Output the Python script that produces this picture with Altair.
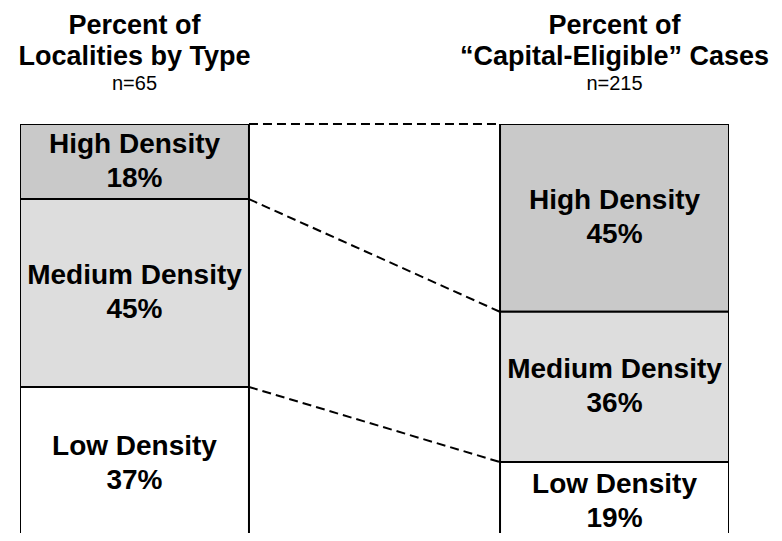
import altair as alt
import pandas as pd

groups = ["Localities", "Cases"]
title_lines = [["Percent of", "Localities by Type"], ["Percent of", "\u201cCapital-Eligible\u201d Cases"]]
n_labels = ["n=65", "n=215"]
densities = ["High Density", "Medium Density", "Low Density"]
pct_localities = [18, 45, 37]
pct_cases = [45, 36, 19]
fills = ["#c9c9c9", "#dddddd", "#ffffff"]

rows = []
for g, vals in zip(groups, [pct_localities, pct_cases]):
    start = 0
    for d, v in zip(densities, vals):
        rows.append({"group": g, "density": d, "start": start, "end": start + v,
                     "mid": start + v / 2, "label": [d, f"{v}%"]})
        start += v
bars_df = pd.DataFrame(rows)

conn = []
cl, cr = 0, 0
for vl, vr in zip([0] + pct_localities[:-1], [0] + pct_cases[:-1]):
    cl += vl
    cr += vr
    conn.append({"src": groups[0], "dst": groups[1], "yl": cl, "yr": cr})
conn_df = pd.DataFrame(conn)

titles_df = pd.DataFrame({"group": groups, "title": title_lines, "n": n_labels})

xscale = alt.Scale(domain=groups, paddingInner=0.523, paddingOuter=0)
yscale = alt.Scale(domain=[0, 98], reverse=True)

base_x = alt.X("group:N", scale=xscale, axis=None, sort=groups)

bars = alt.Chart(bars_df).mark_bar(stroke="black", strokeWidth=2, clip=True).encode(
    x=base_x,
    y=alt.Y("start:Q", scale=yscale, axis=None),
    y2="end:Q",
    fill=alt.Fill("density:N", scale=alt.Scale(domain=densities, range=fills), legend=None),
)

labels = alt.Chart(bars_df).mark_text(
    font="Liberation Sans", fontWeight="bold", fontSize=28, lineHeight=34,
    baseline="middle", color="black", dy=-17
).encode(
    x=base_x,
    y=alt.Y("mid:Q", scale=yscale, axis=None),
    text="label",
)

connectors = alt.Chart(conn_df).mark_rule(
    color="black", strokeWidth=2, strokeDash=[9, 5]
).encode(
    x=alt.X("src:N", scale=xscale, axis=None, bandPosition=1),
    x2=alt.X2("dst:N", bandPosition=0),
    y=alt.Y("yl:Q", scale=yscale, axis=None),
    y2="yr:Q",
)

title_text = alt.Chart(titles_df).mark_text(
    font="Liberation Sans", fontWeight="bold", fontSize=27, lineHeight=31,
    baseline="alphabetic", color="black"
).encode(
    x=base_x,
    y=alt.value(-90),
    text="title",
)

n_text = alt.Chart(titles_df).mark_text(
    font="Liberation Sans", fontSize=20, baseline="alphabetic", color="black"
).encode(
    x=base_x,
    y=alt.value(-34),
    text="n",
)

chart = alt.layer(connectors, bars, labels, title_text, n_text).properties(
    width=709, height=409,
    autosize=alt.AutoSizeParams(type="none"),
    padding={"left": 12, "top": 116, "right": 45, "bottom": 0},
).configure_view(stroke=None)

chart.save("out.html", embed_options={"renderer": "svg", "actions": False})
